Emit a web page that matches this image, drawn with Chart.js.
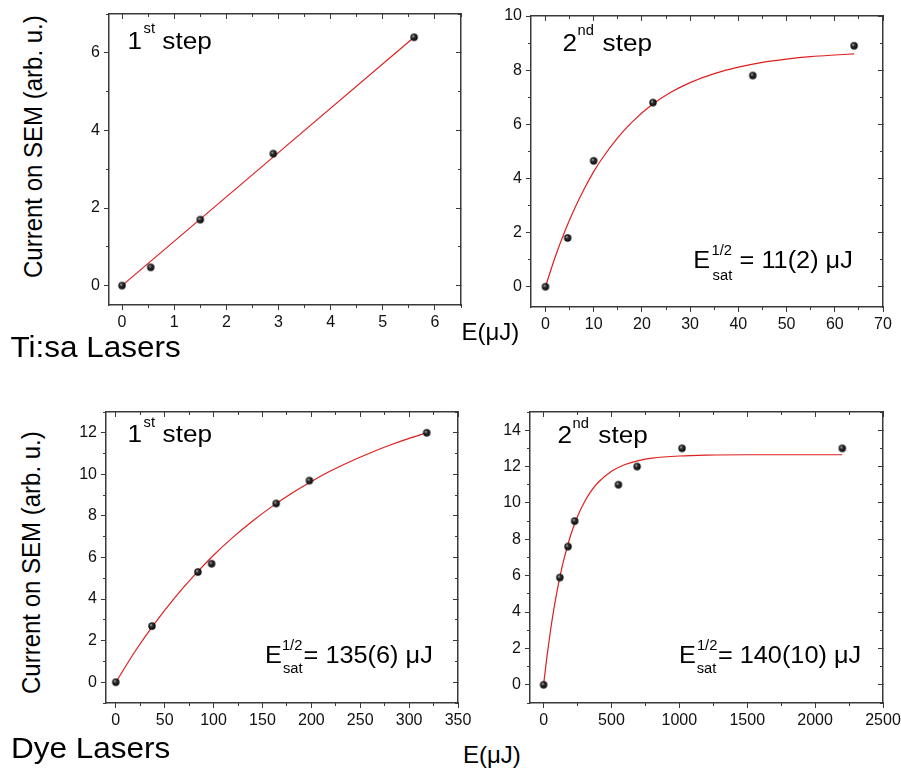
<!DOCTYPE html>
<html>
<head>
<meta charset="utf-8">
<script src="https://cdn.jsdelivr.net/npm/chart.js@4.4.1/dist/chart.umd.min.js"></script>
<style>
  html, body { margin: 0; padding: 0; background: #fff; }
  body { width: 901px; height: 770px; position: relative; overflow: hidden;
         font-family: "Liberation Sans", Arial, Helvetica, sans-serif; color: #000; }
  canvas { position: absolute; }
  .t { position: absolute; left: 0; top: 0; white-space: nowrap; line-height: 1; transform-origin: 0 0; }
</style>
</head>
<body>
<canvas id="tisa1"></canvas>
<canvas id="tisa2"></canvas>
<canvas id="dye1"></canvas>
<canvas id="dye2"></canvas>

<div class="t" style="font-size:24px; transform: translate(20.8px, 278px) rotate(-90deg) scaleY(1.08);">Current on SEM (arb. u.)</div>
<div class="t" style="font-size:24px; transform: translate(18.6px, 694px) rotate(-90deg) scaleY(1.08);">Current on SEM (arb. u.)</div>
<div class="t" style="font-size:30px; transform: translate(10.4px, 331.6px) scaleX(1.05);">Ti:sa Lasers</div>
<div class="t" style="font-size:30px; transform: translate(11px, 732.9px) scaleX(1.05);">Dye Lasers</div>
<div class="t" style="font-size:24px; transform: translate(461.5px, 320.4px);">E(μJ)</div>
<div class="t" style="font-size:24px; transform: translate(463px, 743px);">E(μJ)</div>

<script>
// ---------- measured values ----------
// Ti:sa, 1st step
const tisa1E     = [0, 0.55, 1.5, 2.9, 5.6];
const tisa1I     = [0, 0.47, 1.7, 3.4, 6.4];
const tisa1FitE  = [0, 5.6];
const tisa1FitI  = [0, 6.4];
const tisa1XTicks = [0, 1, 2, 3, 4, 5, 6];
const tisa1YTicks = [0, 2, 4, 6];

// Ti:sa, 2nd step
const tisa2E     = [0, 4.6, 10, 22.3, 43, 64];
const tisa2I     = [0, 1.8, 4.65, 6.8, 7.8, 8.9];
const tisa2FitE  = [0, 2, 4, 6, 8, 10, 12, 15, 18, 22, 26, 30, 35, 40, 45, 50, 55, 60, 64];
const tisa2FitI  = [0, 1.09, 2.04, 2.87, 3.60, 4.25, 4.80, 5.51, 6.09, 6.71, 7.18, 7.54, 7.87, 8.11, 8.29, 8.41, 8.50, 8.56, 8.60];
const tisa2XTicks = [0, 10, 20, 30, 40, 50, 60, 70];
const tisa2YTicks = [0, 2, 4, 6, 8, 10];

// Dye, 1st step
const dye1E     = [0, 37, 84, 98, 164, 198, 318];
const dye1I     = [0, 2.7, 5.3, 5.7, 8.6, 9.7, 12.0];
const dye1FitE  = [0, 20, 40, 60, 80, 100, 120, 140, 160, 180, 200, 220, 240, 260, 280, 300, 318];
const dye1FitI  = [0, 1.50, 2.84, 4.05, 5.13, 6.11, 6.98, 7.76, 8.46, 9.09, 9.66, 10.17, 10.62, 11.03, 11.40, 11.73, 12.0];
const dye1XTicks = [0, 50, 100, 150, 200, 250, 300, 350];
const dye1YTicks = [0, 2, 4, 6, 8, 10, 12];

// Dye, 2nd step
const dye2E     = [0, 120, 180, 229, 551, 689, 1020, 2200];
const dye2I     = [0, 5.9, 7.6, 9.0, 11.0, 12.0, 13.0, 13.0];
const dye2FitE  = [0, 25, 50, 75, 100, 125, 150, 200, 250, 300, 350, 400, 500, 600, 700, 800, 1000, 1200, 1500, 2000, 2200];
const dye2FitI  = [0, 1.56, 2.93, 4.13, 5.18, 6.10, 6.91, 8.24, 9.26, 10.04, 10.65, 11.11, 11.74, 12.11, 12.33, 12.46, 12.58, 12.63, 12.65, 12.65, 12.65];
const dye2XTicks = [0, 500, 1000, 1500, 2000, 2500];
const dye2YTicks = [0, 2, 4, 6, 8, 10, 12, 14];

// ---------- drawing helpers ----------
const FONT = '"Liberation Sans", Arial, Helvetica, sans-serif';
const AXIS = '#3a3a3a';
const FIT_RED = '#de1f1f';

function pairs(xs, ys) { return xs.map((x, i) => ({ x: x, y: ys[i] })); }

function multiples(min, max, step) {
  const out = [];
  for (let k = Math.ceil(min / step - 1e-9); k * step <= max + 1e-9; k++) out.push(+(k * step).toFixed(6));
  return out;
}

// small shaded ball used as the marker
function ballSprite(r) {
  const s = Math.ceil(r * 2) + 2;
  const c = document.createElement('canvas');
  c.width = c.height = s;
  const g = c.getContext('2d');
  const cx = s / 2, cy = s / 2;
  const grad = g.createRadialGradient(cx - r * 0.3, cy - r * 0.35, 0.2, cx, cy, r);
  grad.addColorStop(0, '#c8c8c8');
  grad.addColorStop(0.3, '#3a3a3a');
  grad.addColorStop(1, '#000');
  g.fillStyle = grad;
  g.beginPath(); g.arc(cx, cy, r, 0, Math.PI * 2); g.fill();
  return c;
}
const BALL = ballSprite(3.7);

// four scales per direction: labelled main axis, its minor ticks, and the mirrored
// frame side (top / right) with inward ticks
function axisSet(dir, range, majors, minorStep, labelSize) {
  const isX = dir === 'x';
  const mainPos = isX ? 'bottom' : 'left';
  const mirrorPos = isX ? 'top' : 'right';
  const minors = multiples(range[0], range[1], minorStep);
  const setTicks = vals => scale => { scale.ticks = vals.map(v => ({ value: v })); };
  const setSize = n => scale => { if (isX) scale.height = n; else scale.width = n; };
  const base = { type: 'linear', axis: dir, min: range[0], max: range[1] };
  const s = {};
  s[dir] = Object.assign({}, base, {
    position: mainPos, weight: 0,
    afterBuildTicks: setTicks(majors), afterFit: setSize(labelSize),
    ticks: { autoSkip: false, maxRotation: 0, color: '#111', padding: isX ? 3 : 4,
             font: { family: FONT, size: 16 }, callback: v => String(v) },
    grid: { drawOnChartArea: false, tickLength: 5, tickColor: AXIS, tickWidth: 1 },
    border: { display: true, color: AXIS, width: 1.5 }
  });
  s[dir + 'Minor'] = Object.assign({}, base, {
    position: mainPos, weight: -1,
    afterBuildTicks: setTicks(minors), afterFit: setSize(0),
    ticks: { display: false },
    grid: { drawOnChartArea: false, tickLength: 3, tickColor: AXIS, tickWidth: 1 },
    border: { display: false }
  });
  s[dir + 'Mirror'] = Object.assign({}, base, {
    position: mirrorPos, weight: 0,
    afterBuildTicks: setTicks(majors), afterFit: setSize(0),
    ticks: { display: false },
    grid: { drawOnChartArea: false, tickLength: -5, tickColor: AXIS, tickWidth: 1 },
    border: { display: true, color: AXIS, width: 1.5 }
  });
  s[dir + 'MirrorMinor'] = Object.assign({}, base, {
    position: mirrorPos, weight: -1,
    afterBuildTicks: setTicks(minors), afterFit: setSize(0),
    ticks: { display: false },
    grid: { drawOnChartArea: false, tickLength: -3, tickColor: AXIS, tickWidth: 1 },
    border: { display: false }
  });
  return s;
}

// text placed inside the plot frame, offsets measured from the frame's top-left corner
const panelText = {
  id: 'panelText',
  afterDatasetsDraw(chart, args, opts) {
    const ctx = chart.ctx, area = chart.chartArea;
    ctx.save();
    ctx.fillStyle = '#000';
    ctx.textBaseline = 'alphabetic';
    ctx.textAlign = 'left';
    for (const it of (opts.items || [])) {
      ctx.save();
      ctx.translate(area.left + it.dx, area.top + it.dy);
      ctx.scale(it.sx || 1, 1);
      ctx.font = it.size + 'px ' + FONT;
      ctx.fillText(it.text, 0, 0);
      ctx.restore();
    }
    ctx.restore();
  }
};

function stepLabel(num, sup, p) {
  return [
    { text: num,    dx: p.n[0], dy: p.n[1], size: 24, sx: 1.09 },
    { text: sup,    dx: p.s[0], dy: p.s[1], size: 14, sx: 1.05 },
    { text: 'step', dx: p.w[0], dy: p.w[1], size: 24, sx: 1.09 }
  ];
}
function satLabel(value, p) {
  return [
    { text: 'E',   dx: p.e[0], dy: p.e[1], size: 23, sx: 1.1 },
    { text: '1/2', dx: p.sup[0], dy: p.sup[1], size: 14, sx: 1.05 },
    { text: 'sat', dx: p.sub[0], dy: p.sub[1], size: 14, sx: 1.05 },
    { text: '= ' + value + ' μJ', dx: p.rest[0], dy: p.rest[1], size: 23, sx: 1.1 }
  ];
}

const PAD_TOP = 16, PAD_RIGHT = 26, Y_W = 50, X_H = 32;

function panel(id, frame, xr, yr, xTicks, yTicks, xMinor, yMinor, pts, fit, items) {
  const [L, T, R, B] = frame;
  const cv = document.getElementById(id);
  cv.width = (R - L) + Y_W + PAD_RIGHT;
  cv.height = (B - T) + PAD_TOP + X_H;
  cv.style.left = (L - Y_W) + 'px';
  cv.style.top = (T - PAD_TOP) + 'px';
  const scales = Object.assign({}, axisSet('x', xr, xTicks, xMinor, X_H), axisSet('y', yr, yTicks, yMinor, Y_W));
  return new Chart(cv, {
    type: 'line',
    data: {
      datasets: [
        { data: pts, xAxisID: 'x', yAxisID: 'y', showLine: false,
          pointStyle: BALL, pointRadius: 4, pointHoverRadius: 4 },
        { data: fit, xAxisID: 'x', yAxisID: 'y', showLine: true,
          borderColor: FIT_RED, borderWidth: 1.2, pointRadius: 0, pointHoverRadius: 0,
          cubicInterpolationMode: 'monotone', fill: false }
      ]
    },
    options: {
      responsive: false, animation: false, devicePixelRatio: 1,
      layout: { padding: { left: 0, top: PAD_TOP, right: PAD_RIGHT, bottom: 0 } },
      events: [],
      plugins: { legend: { display: false }, tooltip: { enabled: false }, panelText: { items: items } },
      scales: scales
    },
    plugins: [panelText]
  });
}

panel('tisa1', [109, 14, 461, 305], [-0.25, 6.5], [-0.5, 7], tisa1XTicks, tisa1YTicks, 0.5, 1,
  pairs(tisa1E, tisa1I), pairs(tisa1FitE, tisa1FitI),
  stepLabel('1', 'st', { n: [18.4, 35.3], s: [34.6, 19.3], w: [53.3, 35.3] }));

panel('tisa2', [531, 16, 883, 307], [-3, 70], [-0.75, 10], tisa2XTicks, tisa2YTicks, 5, 1,
  pairs(tisa2E, tisa2I), pairs(tisa2FitE, tisa2FitI),
  stepLabel('2', 'nd', { n: [31.5, 34.7], s: [46.5, 19], w: [71.6, 34.7] })
    .concat(satLabel('11(2)', { e: [162.2, 252.3], sup: [180.6, 239.3], sub: [181.6, 264], rest: [208.6, 252.3] })));

panel('dye1', [106, 412, 458, 703], [-10, 350], [-1, 13], dye1XTicks, dye1YTicks, 25, 1,
  pairs(dye1E, dye1I), pairs(dye1FitE, dye1FitI),
  stepLabel('1', 'st', { n: [21.4, 29.7], s: [37.6, 14.7], w: [56.6, 29.7] })
    .concat(satLabel('135(6)', { e: [158.9, 251.3], sup: [175.9, 238], sub: [176.9, 261.3], rest: [197.6, 251.3] })));

panel('dye2', [530, 412, 883, 703], [-100, 2500], [-1, 15], dye2XTicks, dye2YTicks, 250, 1,
  pairs(dye2E, dye2I), pairs(dye2FitE, dye2FitI),
  stepLabel('2', 'nd', { n: [27.5, 31.3], s: [42.5, 16.3], w: [68.3, 31.3] })
    .concat(satLabel('140(10)', { e: [148.9, 251.3], sup: [166.9, 238], sub: [166.7, 261.3], rest: [187.9, 251.3] })));
</script>
</body>
</html>
